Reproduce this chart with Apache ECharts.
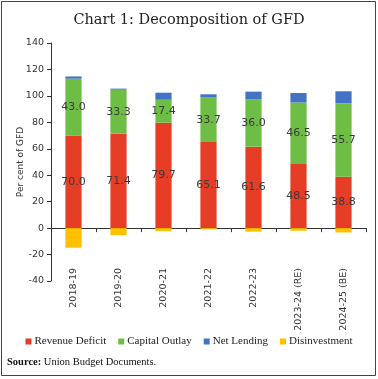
<!DOCTYPE html>
<html>
<head>
<meta charset="utf-8">
<script src="https://cdn.jsdelivr.net/npm/echarts@6/dist/echarts.min.js"></script>
<style>
html,body{margin:0;padding:0;background:#fff;}
#chart{width:378px;height:379px;}
</style>
</head>
<body>
<div id="chart"></div>
<script>
const categories = ['2018-19','2019-20','2020-21','2021-22','2022-23','2023-24 (RE)','2024-25 (BE)'];
const revenueDeficit = [70.0, 71.4, 79.7, 65.1, 61.6, 48.5, 38.8];
const capitalOutlay = [43.0, 33.3, 17.4, 33.7, 36.0, 46.5, 55.7];
const netLending = [1.7, 0.8, 5.3, 2.4, 5.6, 7.2, 9.0];
const disinvestment = [-14.8, -5.3, -2.3, -1.0, -2.7, -2.0, -3.3];
const yTicks = {min: -40, max: 140, interval: 20};

const chart = echarts.init(document.getElementById('chart'));
const labelStyle = {show: true, position: 'inside', color: '#3a3a3a', fontFamily: 'DejaVu Sans', fontSize: 11,
  formatter: p => p.value.toFixed(1)};
const bw = '36%';
chart.setOption({
  animation: false,
  backgroundColor: '#fff',
  title: {
    text: 'Chart 1: Decomposition of GFD',
    left: 'center', top: 8,
    textStyle: {fontFamily: 'DejaVu Serif', fontSize: 14.5, fontWeight: 'normal', color: '#222'}
  },
  graphic: [
    {type: 'rect', shape: {x: 1.5, y: 1.5, width: 374, height: 374}, style: {fill: 'none', stroke: '#444', lineWidth: 1}},
    {type: 'text', left: 7, top: 357, style: {
      rich: {b: {fontFamily: 'Liberation Serif', fontSize: 10.5, fontWeight: 'bold', fill: '#111'},
             n: {fontFamily: 'Liberation Serif', fontSize: 10.5, fill: '#111'}},
      text: '{b|Source:}{n| Union Budget Documents.}'}}
  ],
  legend: {
    top: 331, left: 'center',
    itemWidth: 6, itemHeight: 6, itemGap: 12,
    icon: 'rect',
    textStyle: {fontFamily: 'Liberation Serif', fontSize: 11, color: '#222', padding: [0,0,0,-2]},
    data: ['Revenue Deficit','Capital Outlay','Net Lending','Disinvestment']
  },
  grid: {left: 51, right: 12, top: 43, bottom: 98, containLabel: false, outerBoundsMode: 'none'},
  xAxis: {
    type: 'category', data: categories,
    axisLine: {onZero: true, lineStyle: {color: '#333'}},
    axisTick: {show: true, inside: false, length: 4, lineStyle: {color: '#333'}},
    axisLabel: {rotate: 90, margin: -13, fontFamily: 'DejaVu Sans', fontSize: 9.5, color: '#333', interval: 0}
  },
  yAxis: {
    type: 'value', min: yTicks.min, max: yTicks.max, interval: yTicks.interval,
    name: 'Per cent of GFD', nameLocation: 'middle', nameGap: 26, nameMoveOverlap: false,
    nameTextStyle: {fontFamily: 'DejaVu Sans', fontSize: 9, color: '#333'},
    axisLine: {show: true, lineStyle: {color: '#333'}},
    axisTick: {show: true, length: 4, lineStyle: {color: '#333'}},
    axisLabel: {fontFamily: 'DejaVu Sans', fontSize: 9.5, color: '#333', margin: 7},
    splitLine: {show: false}
  },
  series: [
    {name: 'Revenue Deficit', type: 'bar', stack: 'pos', data: revenueDeficit, barWidth: bw,
     itemStyle: {color: '#E63D26'}, label: labelStyle},
    {name: 'Capital Outlay', type: 'bar', stack: 'pos', data: capitalOutlay, barWidth: bw,
     itemStyle: {color: '#6EBE45'}, label: labelStyle},
    {name: 'Net Lending', type: 'bar', stack: 'pos', data: netLending, barWidth: bw,
     itemStyle: {color: '#4472C4'}},
    {name: 'Disinvestment', type: 'bar', stack: 'pos', data: disinvestment, barWidth: bw,
     itemStyle: {color: '#FFC000'}}
  ]
});
</script>
</body>
</html>
